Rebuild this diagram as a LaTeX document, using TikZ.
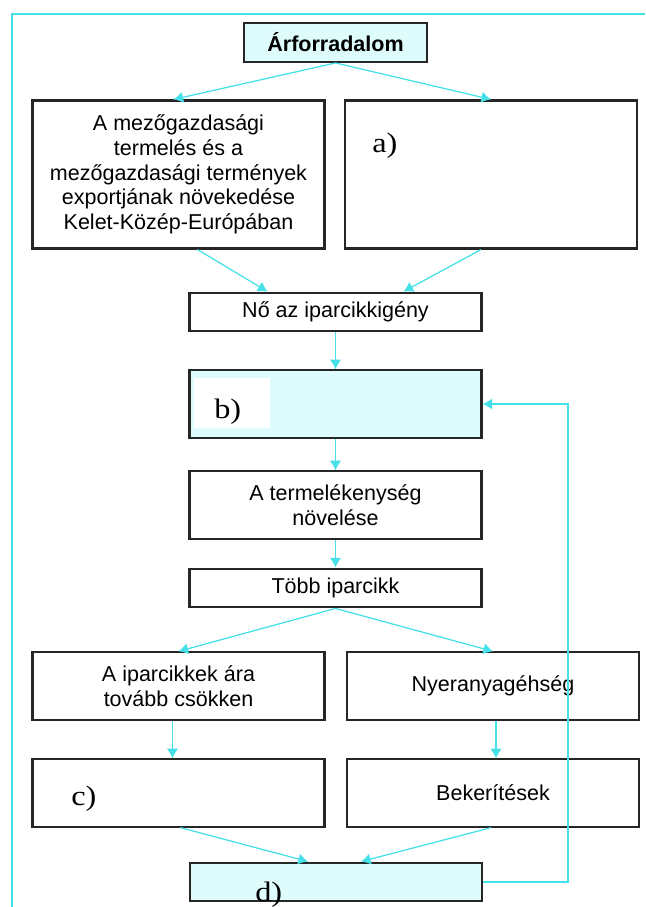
\documentclass[tikz,border=0pt]{standalone}
\usepackage{fontspec}
\setmainfont{Liberation Sans}
\newfontfamily\letterfont{Liberation Serif}[FakeStretch=1.15]
\usetikzlibrary{positioning, arrows.meta, calc}
\definecolor{flowcyan}{RGB}{70,225,232}
\definecolor{palecyan}{RGB}{222,252,252}
\tikzset{
  >={Latex[length=2.4mm, width=2.8mm]}, % small filled arrow heads
  flow/.style={->, draw=flowcyan, line width=0.9pt}, % the cyan connectors
  box/.style={draw=black!85, line width=1.5pt, fill=white, align=center,
    minimum width=7.3cm, inner sep=2pt,
    font=\fontsize{15.3}{17.5}\selectfont}, % every rectangle of the chart
  onerow/.style={box, minimum height=0.97cm}, % boxes with a single line
  tworow/.style={box, minimum height=1.68cm}, % boxes with two lines
  fiverow/.style={box, minimum height=3.7cm}, % the two boxes at the top
  tinted/.style={fill=palecyan}, % the light blue boxes
  answer/.style={font=\letterfont\fontsize{20}{20}\selectfont,
    anchor=base west, inner sep=0pt}, % labels a) to d)
}

\begin{document}
\begin{tikzpicture}[x=0.025cm, y=-0.025cm] % one unit is one pixel, y runs down
  \useasboundingbox (0,0) rectangle (645,907);
  \draw[flowcyan, line width=1.6pt] (12,907) -- (12,14) -- (645,14);

  \node[onerow, tinted, minimum width=4.575cm, font=\bfseries\fontsize{15.3}{17.5}\selectfont]
    (rev) at (335.5,42.5) {Árforradalom};
  \node[fiverow] (agri) at (178.5,174.5)
    {A mezőgazdasági\\termelés és a\\mezőgazdasági termények\\exportjának növekedése\\Kelet-Közép-Európában};
  \node[fiverow] (a) at (491,174.5) {};
  \node[onerow] (demand) at (335.5,312) {Nő az iparcikkigény};
  \node[tworow, tinted] (b) at (335.5,404) {};
  \node[tworow] (prod) at (335.5,505) {A termelékenység\\növelése};
  \node[onerow] (more) at (335.5,588) {Több iparcikk};
  \node[tworow] (price) at (178.5,686) {A iparcikkek ára\\tovább csökken};
  \node[tworow] (raw) at (493,686) {Nyeranyagéhség};
  \node[tworow] (c) at (178.5,793) {};
  \node[tworow] (fence) at (493,793) {Bekerítések};
  \node[onerow, tinted] (d) at (336,882) {};
  \coordinate (loop) at (568,404);

  \fill[white] (194,378) rectangle (270,428);
  \node[answer] (la) at (372,152) {a)};
  \node[answer] (lb) at (214,418) {b)};
  \node[answer] (lc) at (71,805) {c)};
  \node[answer] (ld) at (255,901) {d)};

  \draw[flow] (rev.south) -- ($(agri.north)+(-5,0)$);
  \draw[flow] (rev.south) -- (a.north);
  \draw[flow] ($(agri.south)+(19,0)$) -- ($(demand.north)+(-68,0)$);
  \draw[flow] ($(a.south)+(-10,0)$) -- ($(demand.north)+(68,0)$);
  \draw[flow] (demand) -- (b);
  \draw[flow] (b) -- (prod);
  \draw[flow] (prod) -- (more);
  \draw[flow] (more.south) -- (price.north);
  \draw[flow] (more.south) -- (raw.north);
  \draw[flow] ($(price.south)+(-6,0)$) -- ($(c.north)+(-6,0)$);
  \draw[flow] ($(raw.south)+(3,0)$) -- ($(fence.north)+(3,0)$);
  \draw[flow] ($(c.south)+(2,0)$) -- ($(d.north)+(-28,0)$);
  \draw[flow] ($(fence.south)+(-2,0)$) -- ($(d.north)+(25,0)$);
  \draw[flow] (d.east) -| (loop) -- (b.east);
\end{tikzpicture}
\end{document}
